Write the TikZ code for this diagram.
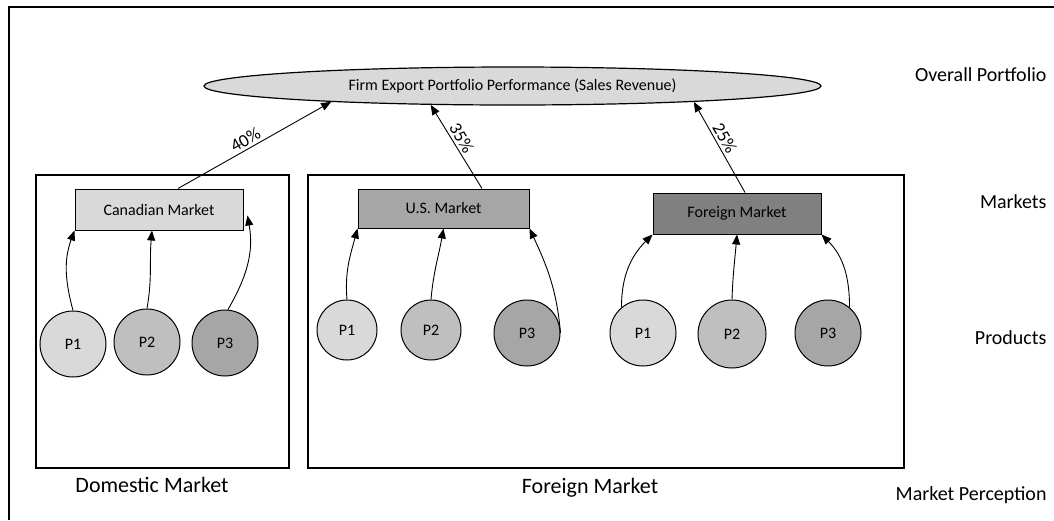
\documentclass[tikz,border=0pt]{standalone}
\usepackage{fontspec}
\setmainfont{Carlito}
\usetikzlibrary{shapes.geometric,arrows.meta}

\begin{document}
\begin{tikzpicture}[x=1pt,y=1pt]
% Styles
\tikzset{
    market/.style={draw, line width=1pt, minimum width=168pt, minimum height=41pt, inner sep=0pt, font=\fontsize{16}{19}\selectfont},
    prod/.style={draw, circle, line width=1pt, minimum size=66pt, inner sep=0pt, font=\fontsize{16}{19}\selectfont},
    conn/.style={line width=0.9pt, -{Triangle[length=10pt,width=8pt]}},
    pct/.style={font=\fontsize{18}{21}\selectfont, inner sep=2.5pt},
    frame/.style={line width=1.2pt},
    level/.style={anchor=east, font=\fontsize{20}{24}\selectfont},
    group/.style={font=\fontsize{22}{26}\selectfont}
}
\useasboundingbox (0,0) rectangle (1054,-520);

% Nodes
\node[ellipse, draw, fill=black!15, line width=1.2pt, minimum width=617pt, minimum height=38pt, inner sep=0pt, font=\fontsize{16}{19}\selectfont] (PORT) at (512.5,-86) {Firm Export Portfolio Performance (Sales Revenue)};

\node[market, fill=black!15] (CAN) at (159,-209.5) {Canadian Market};
\node[market, fill=black!35, minimum width=171pt, minimum height=39pt] (US) at (443.5,-208.5) {U.S. Market};
\node[market, fill=black!50] (FOR) at (737,-213.5) {Foreign Market};

\node[prod, fill=black!15] (CP1) at (73,-344) {P1};
\node[prod, fill=black!25] (CP2) at (147,-342) {P2};
\node[prod, fill=black!35] (CP3) at (225,-343) {P3};
\node[prod, fill=black!15, minimum size=60pt] (UP1) at (347,-330) {P1};
\node[prod, fill=black!25, minimum size=60pt] (UP2) at (431,-330) {P2};
\node[prod, fill=black!35] (UP3) at (527,-333) {P3};
\node[prod, fill=black!15] (FP1) at (643,-333) {P1};
\node[prod, fill=black!25, minimum size=68pt] (FP2) at (732,-334) {P2};
\node[prod, fill=black!35] (FP3) at (828,-333) {P3};

\node[level] (LOVR) at (1050,-75) {Overall Portfolio};
\node[level] (LMKT) at (1050,-202) {Markets};
\node[level] (LPRD) at (1050,-338) {Products};
\node[level] (LPER) at (1050,-495) {Market Perception};

\node[group] (DOM) at (152,-485) {Domestic Market};
\node[group] (FGN) at (590,-488) {Foreign Market};

% Connections
\draw[conn] ([xshift=19pt]CAN.north) -- node[pct, pos=0.47, rotate=30, anchor=south] {40\%} (PORT.185);
\draw[conn] ([xshift=38.5pt]US.north) -- node[pct, pos=0.55, rotate=-60, anchor=south] {35\%} (PORT.193);
\draw[conn] ([xshift=8pt]FOR.north) -- node[pct, pos=0.55, rotate=-60, anchor=south] {25\%} (PORT.355);

\draw[conn] (CP1.north) to[out=105, in=-110] (CAN.south west);
\draw[conn] (CP2.north) to[out=80, in=-95] ([xshift=-7pt]CAN.south);
\draw[conn] (CP3.85) to[out=60, in=-80] ([xshift=4pt, yshift=15pt]CAN.south east);

\draw[conn] (UP1.north) to[out=95, in=-105] (US.south west);
\draw[conn] (UP2.north) to[out=85, in=-100] (US.south);
\draw[conn] (UP3.east) to[out=95, in=-65] (US.south east);

\draw[conn] (FP1.130) to[out=90, in=-135] (FOR.south west);
\draw[conn] (FP2.north) to[out=88, in=-95] (FOR.south);
\draw[conn] (FP3.50) to[out=90, in=-45] (FOR.south east);

% Frame
\draw[frame] (36,-175) rectangle (289,-468);
\draw[frame] (308,-175) rectangle (904,-468);
\draw[frame] (9,-520) -- (9,-7) -- (1054,-7);
\end{tikzpicture}
\end{document}
